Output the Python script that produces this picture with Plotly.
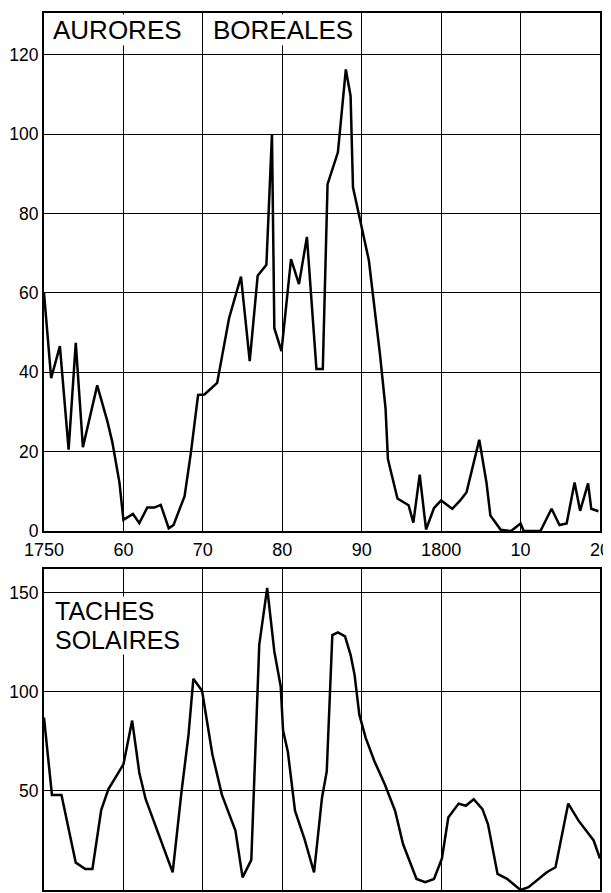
import plotly.graph_objects as go

# Aurores boréales (top panel)
aur_years = [1750.0, 1750.9, 1752.0, 1753.1, 1754.0, 1754.9, 1756.7, 1758.0, 1758.6, 1759.5,
             1760.0, 1761.2, 1762.0, 1763.0, 1763.9, 1764.7, 1765.7, 1766.3, 1767.7, 1768.5,
             1769.4, 1770.2, 1771.8, 1772.5, 1773.3, 1774.8, 1775.9, 1776.9, 1778.0, 1778.7,
             1779.0, 1779.9, 1781.1, 1782.1, 1783.1, 1784.3, 1785.1, 1785.7, 1787.0, 1788.0,
             1788.6, 1788.9, 1790.0, 1790.9, 1792.3, 1793.0, 1793.3, 1794.5, 1795.9, 1796.5,
             1797.3, 1798.1, 1799.1, 1800.0, 1801.4, 1802.4, 1803.2, 1804.8, 1805.7, 1806.2,
             1807.5, 1808.8, 1810.0, 1810.4, 1812.5, 1813.9, 1814.9, 1815.8, 1816.8, 1817.5,
             1818.5, 1818.9, 1819.8]
aur_values = [60, 38.5, 46.6, 20.5, 47.4, 21.1, 36.7, 27.5, 22.4, 12.2,
              2.8, 4.3, 2.0, 5.9, 5.9, 6.6, 0.7, 1.5, 8.8, 19.8,
              34.3, 34.4, 37.3, 45.3, 53.6, 64.1, 42.8, 64.3, 67.1, 100,
              51.1, 45.3, 68.5, 62.2, 74.1, 40.8, 40.8, 87.4, 95.4, 116.3,
              109.6, 86.6, 76.2, 68.2, 44.5, 30.9, 18.1, 8.2, 6.5, 2.1,
              14.2, 0.4, 5.8, 7.7, 5.6, 7.7, 9.8, 23, 12.3, 3.9,
              0.3, 0, 1.9, 0, 0, 5.6, 1.5, 1.9, 12.2, 5.1,
              12, 5.6, 5]

# Taches solaires (bottom panel)
sun_years = [1750.0, 1751.0, 1752.2, 1754.0, 1755.2, 1756.1, 1757.2, 1758.1, 1760.0, 1761.1,
             1762.0, 1762.8, 1766.2, 1767.3, 1768.2, 1768.8, 1769.9, 1771.2, 1772.4, 1774.1,
             1775.0, 1776.1, 1777.1, 1778.1, 1779.0, 1779.8, 1780.1, 1780.7, 1781.6, 1782.8,
             1784.0, 1785.0, 1785.6, 1786.3, 1787.0, 1787.9, 1788.6, 1789.1, 1789.7, 1790.5,
             1791.6, 1792.9, 1794.2, 1795.2, 1796.9, 1798.0, 1799.1, 1800.1, 1800.9, 1802.2,
             1803.1, 1804.1, 1805.2, 1805.9, 1807.1, 1808.3, 1810.0, 1811.0, 1813.3, 1814.4,
             1816.0, 1817.3, 1819.2, 1820.0]
sun_values = [87, 48, 48, 13.8, 10.6, 10.6, 40.3, 50.8, 63.4, 85.5,
              59.2, 45.8, 8.9, 49.1, 78.5, 106.6, 100.6, 68.4, 48, 30,
              6.4, 15.2, 123.7, 152.5, 120.4, 102.8, 80.5, 69.8, 40, 25.7,
              8.9, 46.6, 60, 128.7, 130, 128, 118.7, 108.6, 88.5, 76.8,
              65, 53.4, 40, 23.2, 5.6, 3.9, 5.6, 15.9, 36.6, 43.6,
              42.5, 45.8, 40.8, 33.2, 8.1, 5.6, 0, 1.4, 9, 11.5,
              43.6, 35, 25, 15.9]

x_tickvals = [1750, 1760, 1770, 1780, 1790, 1800, 1810, 1820]
x_ticktext = ["1750", "60", "70", "80", "90", "1800", "10", "20"]
aur_yticks = [0, 20, 40, 60, 80, 100, 120]
sun_yticks = [0, 50, 100, 150]

FONT = "Liberation Sans, Arial, Helvetica, sans-serif"

fig = go.Figure()
fig.add_trace(go.Scatter(x=aur_years, y=aur_values, mode="lines",
                         line=dict(color="black", width=2.5), xaxis="x", yaxis="y",
                         showlegend=False, hoverinfo="skip"))
fig.add_trace(go.Scatter(x=sun_years, y=sun_values, mode="lines",
                         line=dict(color="black", width=2.5), xaxis="x2", yaxis="y2",
                         showlegend=False, hoverinfo="skip"))

axis_common = dict(showline=True, linecolor="black", linewidth=2, mirror=True,
                   showgrid=True, gridcolor="black", gridwidth=1.3, zeroline=False,
                   ticks="", ticklen=0, automargin=False)

# The page body adds an 8px offset, so the figure is sized to fit the 611x893 window.
fig.update_layout(
    width=603, height=885,
    margin=dict(l=36, r=11, t=5, b=3),
    paper_bgcolor="white", plot_bgcolor="white",
    font=dict(family=FONT, color="black"),
    xaxis=dict(domain=[0, 1], range=[1750, 1820], tickvals=x_tickvals, ticktext=x_ticktext,
               anchor="y", ticklabelstandoff=1,
               tickfont=dict(family=FONT, size=18, color="black"), **axis_common),
    yaxis=dict(domain=[0.4093, 1], range=[0, 130.5], tickvals=aur_yticks, anchor="x",
               ticklabelstandoff=0,
               tickfont=dict(family=FONT, size=17.5, color="black"), **axis_common),
    xaxis2=dict(domain=[0, 1], range=[1750, 1820], tickvals=x_tickvals, anchor="y2",
                showticklabels=False, **axis_common),
    yaxis2=dict(domain=[0, 0.366], range=[0, 162], tickvals=sun_yticks, anchor="x2",
                ticklabelstandoff=0,
                tickfont=dict(family=FONT, size=17.5, color="black"), **axis_common),
)

ann_font = dict(family=FONT, size=26, color="black")
fig.add_annotation(x=1751.0, y=126.3, xref="x", yref="y", text="AURORES", showarrow=False,
                   xanchor="left", yanchor="middle", font=ann_font, bgcolor="white", borderpad=0)
fig.add_annotation(x=1771.2, y=126.3, xref="x", yref="y", text="BOREALES", showarrow=False,
                   xanchor="left", yanchor="middle", font=ann_font, bgcolor="white", borderpad=0)
sun_font = dict(family=FONT, size=25, color="black")
fig.add_annotation(x=1751.3, y=140.8, xref="x2", yref="y2", text="TACHES", showarrow=False,
                   xanchor="left", yanchor="middle", font=sun_font, bgcolor="white", borderpad=0)
fig.add_annotation(x=1751.3, y=126.3, xref="x2", yref="y2", text="SOLAIRES", showarrow=False,
                   xanchor="left", yanchor="middle", font=sun_font, bgcolor="white", borderpad=0)

fig.write_html("out.html")
